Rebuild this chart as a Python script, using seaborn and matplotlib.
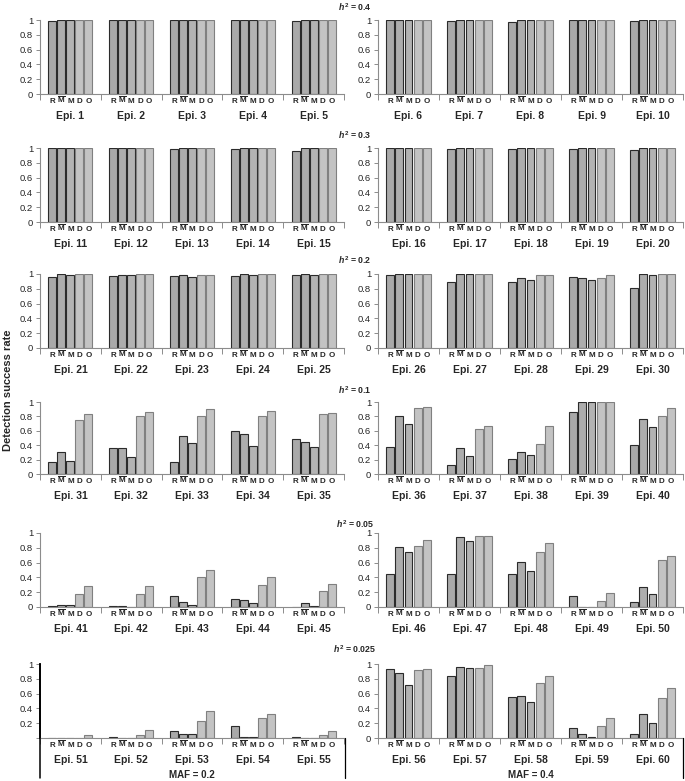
import numpy as np
import pandas as pd
import seaborn as sns
import matplotlib.pyplot as plt
from matplotlib.lines import Line2D

# Detection success rate per Epi model, methods in order R, M-bar, M, D, O
methods = ['R', 'Mbar', 'M', 'D', 'O']
method_labels = ['R', r'$\overline{\mathbf{M}}$', 'M', 'D', 'O']
h2_levels = ['0.4', '0.3', '0.2', '0.1', '0.05', '0.025']

# Epi 1-10 (1-5 MAF = 0.2, 6-10 MAF = 0.4)
h2_040 = [[0.98, 1, 1, 1, 1], [1, 1, 1, 1, 1], [1, 1, 1, 1, 1], [1, 1, 1, 1, 1], [0.98, 1, 1, 1, 1],
          [1, 1, 1, 1, 1], [0.99, 1, 1, 1, 1], [0.97, 1, 1, 1, 1], [1, 1, 1, 1, 1], [0.99, 1, 1, 1, 1]]
# Epi 11-20
h2_030 = [[1, 1, 1, 1, 1], [1, 1, 1, 1, 1], [0.99, 1, 1, 1, 1], [0.99, 1, 1, 1, 1], [0.96, 1, 1, 1, 1],
          [1, 1, 1, 1, 1], [0.98, 1, 1, 1, 1], [0.98, 1, 1, 1, 1], [0.98, 1, 1, 1, 1], [0.97, 1, 1, 1, 1]]
# Epi 21-30
h2_020 = [[0.965, 1, 0.99, 1, 1], [0.975, 0.99, 0.99, 1, 1], [0.975, 0.98, 0.96, 0.99, 0.99],
          [0.975, 1, 0.985, 1, 1], [0.985, 1, 0.99, 1, 1],
          [0.98, 1, 1, 1, 1], [0.89, 1, 1, 1, 1], [0.89, 0.945, 0.925, 0.99, 0.99],
          [0.955, 0.945, 0.925, 0.945, 0.99], [0.81, 1, 0.99, 1, 1]]
# Epi 31-40
h2_010 = [[0.16, 0.31, 0.18, 0.75, 0.83], [0.36, 0.36, 0.24, 0.80, 0.86], [0.16, 0.53, 0.43, 0.80, 0.90],
          [0.60, 0.55, 0.39, 0.81, 0.88], [0.49, 0.45, 0.38, 0.83, 0.85],
          [0.37, 0.81, 0.70, 0.91, 0.93], [0.13, 0.36, 0.25, 0.63, 0.66], [0.21, 0.31, 0.26, 0.42, 0.67],
          [0.86, 1, 1, 1, 1], [0.40, 0.77, 0.65, 0.81, 0.92]]
# Epi 41-50
h2_005 = [[0.01, 0.03, 0.03, 0.18, 0.29], [0.02, 0.02, 0.0, 0.18, 0.29], [0.15, 0.07, 0.03, 0.41, 0.50],
          [0.11, 0.09, 0.05, 0.30, 0.40], [0.0, 0.05, 0.01, 0.22, 0.31],
          [0.45, 0.81, 0.74, 0.82, 0.90], [0.45, 0.94, 0.89, 0.96, 0.96], [0.45, 0.61, 0.48, 0.75, 0.86],
          [0.15, 0.005, 0.005, 0.08, 0.19], [0.07, 0.27, 0.17, 0.64, 0.69]]
# Epi 51-60
h2_0025 = [[0.0, 0.0, 0.0, 0.0, 0.04], [0.01, 0.0, 0.0, 0.04, 0.11], [0.10, 0.05, 0.05, 0.23, 0.36],
           [0.16, 0.02, 0.01, 0.27, 0.33], [0.01, 0.0, 0.0, 0.04, 0.09],
           [0.93, 0.88, 0.72, 0.92, 0.93], [0.84, 0.96, 0.94, 0.94, 0.99], [0.55, 0.57, 0.48, 0.74, 0.84],
           [0.14, 0.06, 0.02, 0.16, 0.27], [0.06, 0.32, 0.20, 0.54, 0.67]]

all_rows = [h2_040, h2_030, h2_020, h2_010, h2_005, h2_0025]

records = []
for r, (h2, row) in enumerate(zip(h2_levels, all_rows)):
    for i, vals in enumerate(row):
        epi = r * 10 + i + 1
        for m, v in zip(methods, vals):
            records.append({'h2': h2, 'maf': '0.2' if i < 5 else '0.4',
                            'epi': f'Epi. {epi}', 'method': m, 'rate': v})
df = pd.DataFrame(records)

fills = {'R': '#a9a9a9', 'Mbar': '#adadad', 'M': '#b3b3b3', 'D': '#c3c3c3', 'O': '#c3c3c3'}
edges = {'R': '#2b2b2b', 'Mbar': '#2b2b2b', 'M': '#2b2b2b', 'D': '#808080', 'O': '#808080'}
axis_gray = '#8c8c8c'

sns.set_style('white')
plt.rcParams['font.family'] = ['Liberation Sans', 'DejaVu Sans']
plt.rcParams['mathtext.fontset'] = 'custom'
plt.rcParams['mathtext.rm'] = 'Liberation Sans:bold'
plt.rcParams['mathtext.bf'] = 'Liberation Sans:bold'
plt.rcParams['mathtext.it'] = 'Liberation Sans:italic:bold'

W, H = 685, 781
fig = plt.figure(figsize=(W / 100, H / 100), dpi=100)

row_tops = [20, 148, 274, 402, 533, 664]
row_bots = [94, 222, 348, 474, 607, 738]
title_y = [7, 135, 260, 390, 524, 649]
panel_x = {'0.2': (40, 344), '0.4': (378, 683)}

for r, h2 in enumerate(h2_levels):
    fig.text(355 / W, 1 - title_y[r] / H, r'$h^2$ = ' + h2, ha='center', va='center',
             fontsize=6.3, fontweight='bold')
    for maf in ['0.2', '0.4']:
        x0, x1 = panel_x[maf]
        ax = fig.add_axes([x0 / W, 1 - row_bots[r] / H, (x1 - x0) / W, (row_bots[r] - row_tops[r]) / H])
        sub = df[(df.h2 == h2) & (df.maf == maf)]
        order = list(dict.fromkeys(sub.epi))
        sns.barplot(data=sub, x='epi', y='rate', hue='method', order=order, hue_order=methods,
                    palette=fills, width=0.74, gap=0.12, linewidth=0.8, errorbar=None,
                    legend=False, ax=ax)
        centers = []
        for cont, m in zip(ax.containers, methods):
            for bar in cont:
                bar.set_edgecolor(edges[m])
                centers.append((bar.get_x() + bar.get_width() / 2, m))
        centers.sort()

        ax.set_xlim(-0.5, len(order) - 0.5)
        ax.set_ylim(0, 1)
        ax.set_xlabel('')
        ax.set_ylabel('')
        ax.set_facecolor('none')

        yt = np.arange(0, 1.01, 0.2)
        ylabs = ['%g' % round(v, 1) for v in yt]
        if r == 5 and maf == '0.2':
            ylabs[0] = ''
        ax.set_yticks(yt, labels=ylabs)
        ax.tick_params(axis='y', length=3, width=0.7, color=axis_gray, pad=2, labelsize=6.8,
                       left=True, direction='out')

        # group separators as major ticks, method letters as minor ticks
        ax.set_xticks(np.arange(-0.5, len(order), 1), labels=[''] * (len(order) + 1))
        ax.tick_params(axis='x', which='major', length=4, width=0.7, color=axis_gray,
                       bottom=True, direction='out')
        lab_map = dict(zip(methods, method_labels))
        ax.set_xticks([c for c, _ in centers], labels=[lab_map[m] for _, m in centers], minor=True)
        ax.tick_params(axis='x', which='minor', length=0, pad=6.8, labelsize=5.8)
        for t in ax.get_xticklabels(minor=True):
            t.set_fontweight('bold')
            t.set_verticalalignment('baseline')

        sec = ax.secondary_xaxis('bottom')
        sec.set_xticks(range(len(order)), labels=order)
        sec.tick_params(length=0, pad=12, labelsize=7.5)
        for t in sec.get_xticklabels():
            t.set_fontweight('bold')
        sec.spines['bottom'].set_visible(False)

        sns.despine(ax=ax)
        for s in ['left', 'bottom']:
            ax.spines[s].set_color(axis_gray)
            ax.spines[s].set_linewidth(0.8)
        if r == 5 and maf == '0.2':
            ax.spines['left'].set_color('black')
            ax.spines['left'].set_linewidth(1.3)

# MAF brackets under the last row
for xs in [40, 345, 683]:
    y_start = 664 if xs == 40 else 738
    fig.add_artist(Line2D([xs / W, xs / W], [1 - y_start / H, 1 - 778 / H], color='black',
                          linewidth=1.1 if xs == 40 else 0.9))
fig.text((panel_x['0.2'][0] + panel_x['0.2'][1]) / 2 / W, 1 - 775 / H, 'MAF = 0.2',
         ha='center', va='center', fontsize=7, fontweight='bold')
fig.text((panel_x['0.4'][0] + panel_x['0.4'][1]) / 2 / W, 1 - 775 / H, 'MAF = 0.4',
         ha='center', va='center', fontsize=7, fontweight='bold')

fig.text(8 / W, 1 - 390 / H, 'Detection success rate', rotation=90, ha='center', va='center',
         fontsize=8, fontweight='bold')

fig.savefig('out.png', dpi=100)
